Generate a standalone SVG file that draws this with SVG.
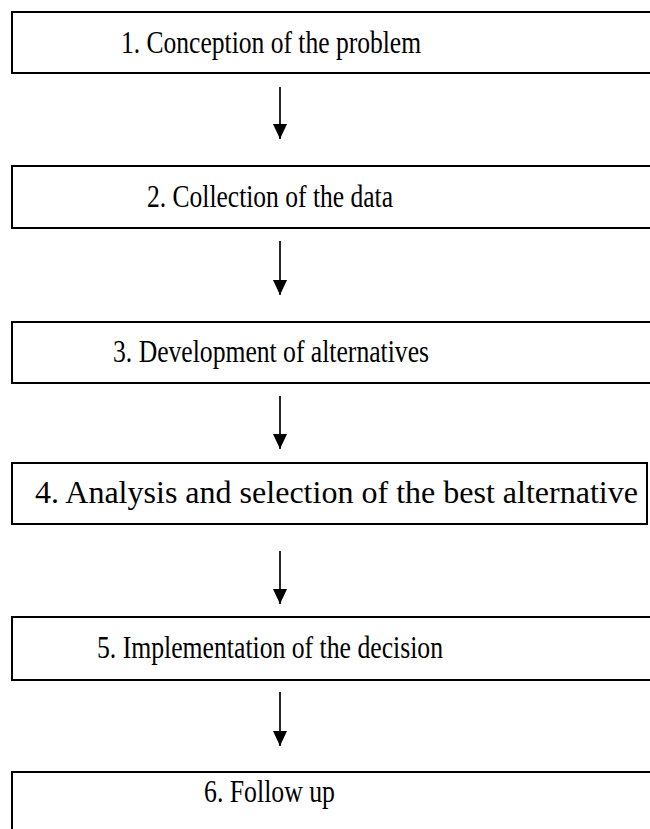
<svg xmlns="http://www.w3.org/2000/svg" width="650" height="829" viewBox="0 0 650 829">
  <style>
    .box { fill: #ffffff; stroke: #000000; stroke-width: 2; }
    .label { font-family: "Liberation Serif", "Times New Roman", serif; font-size: 31px; fill: #000000; }
    .link { stroke: #000000; stroke-width: 1.7; fill: none; }
  </style>
  <defs>
    <marker id="arrowhead" markerUnits="userSpaceOnUse" markerWidth="14" markerHeight="15" refX="15" refY="7" orient="auto">
      <path d="M0,0 L15,7 L0,14 Z" fill="#000000"/>
    </marker>
  </defs>
  <rect width="650" height="829" fill="#ffffff"/>

  <g id="step1">
    <rect class="box" x="12" y="12" width="650" height="61"/>
    <text class="label" x="121" y="53" textLength="300" lengthAdjust="spacingAndGlyphs">1. Conception of the problem</text>
  </g>
  <g id="step2">
    <rect class="box" x="12" y="166" width="650" height="62"/>
    <text class="label" x="147" y="207" textLength="246" lengthAdjust="spacingAndGlyphs">2. Collection of the data</text>
  </g>
  <g id="step3">
    <rect class="box" x="12" y="322" width="650" height="61"/>
    <text class="label" x="113" y="362" textLength="316" lengthAdjust="spacingAndGlyphs">3. Development of alternatives</text>
  </g>
  <g id="step4">
    <rect class="box" x="12" y="463" width="635" height="61"/>
    <text class="label" x="35" y="503" textLength="603" lengthAdjust="spacingAndGlyphs">4. Analysis and selection of the best alternative</text>
  </g>
  <g id="step5">
    <rect class="box" x="12" y="617" width="650" height="63"/>
    <text class="label" x="97" y="658" textLength="346" lengthAdjust="spacingAndGlyphs">5. Implementation of the decision</text>
  </g>
  <g id="step6">
    <rect class="box" x="12" y="772" width="650" height="80"/>
    <text class="label" x="204" y="802" textLength="131" lengthAdjust="spacingAndGlyphs">6. Follow up</text>
  </g>

  <g id="connectors">
    <line class="link" x1="280" y1="87" x2="280" y2="139" marker-end="url(#arrowhead)"/>
    <line class="link" x1="280" y1="241" x2="280" y2="295" marker-end="url(#arrowhead)"/>
    <line class="link" x1="280" y1="396" x2="280" y2="449" marker-end="url(#arrowhead)"/>
    <line class="link" x1="280" y1="551" x2="280" y2="604" marker-end="url(#arrowhead)"/>
    <line class="link" x1="280" y1="692" x2="280" y2="746" marker-end="url(#arrowhead)"/>
  </g>
</svg>
